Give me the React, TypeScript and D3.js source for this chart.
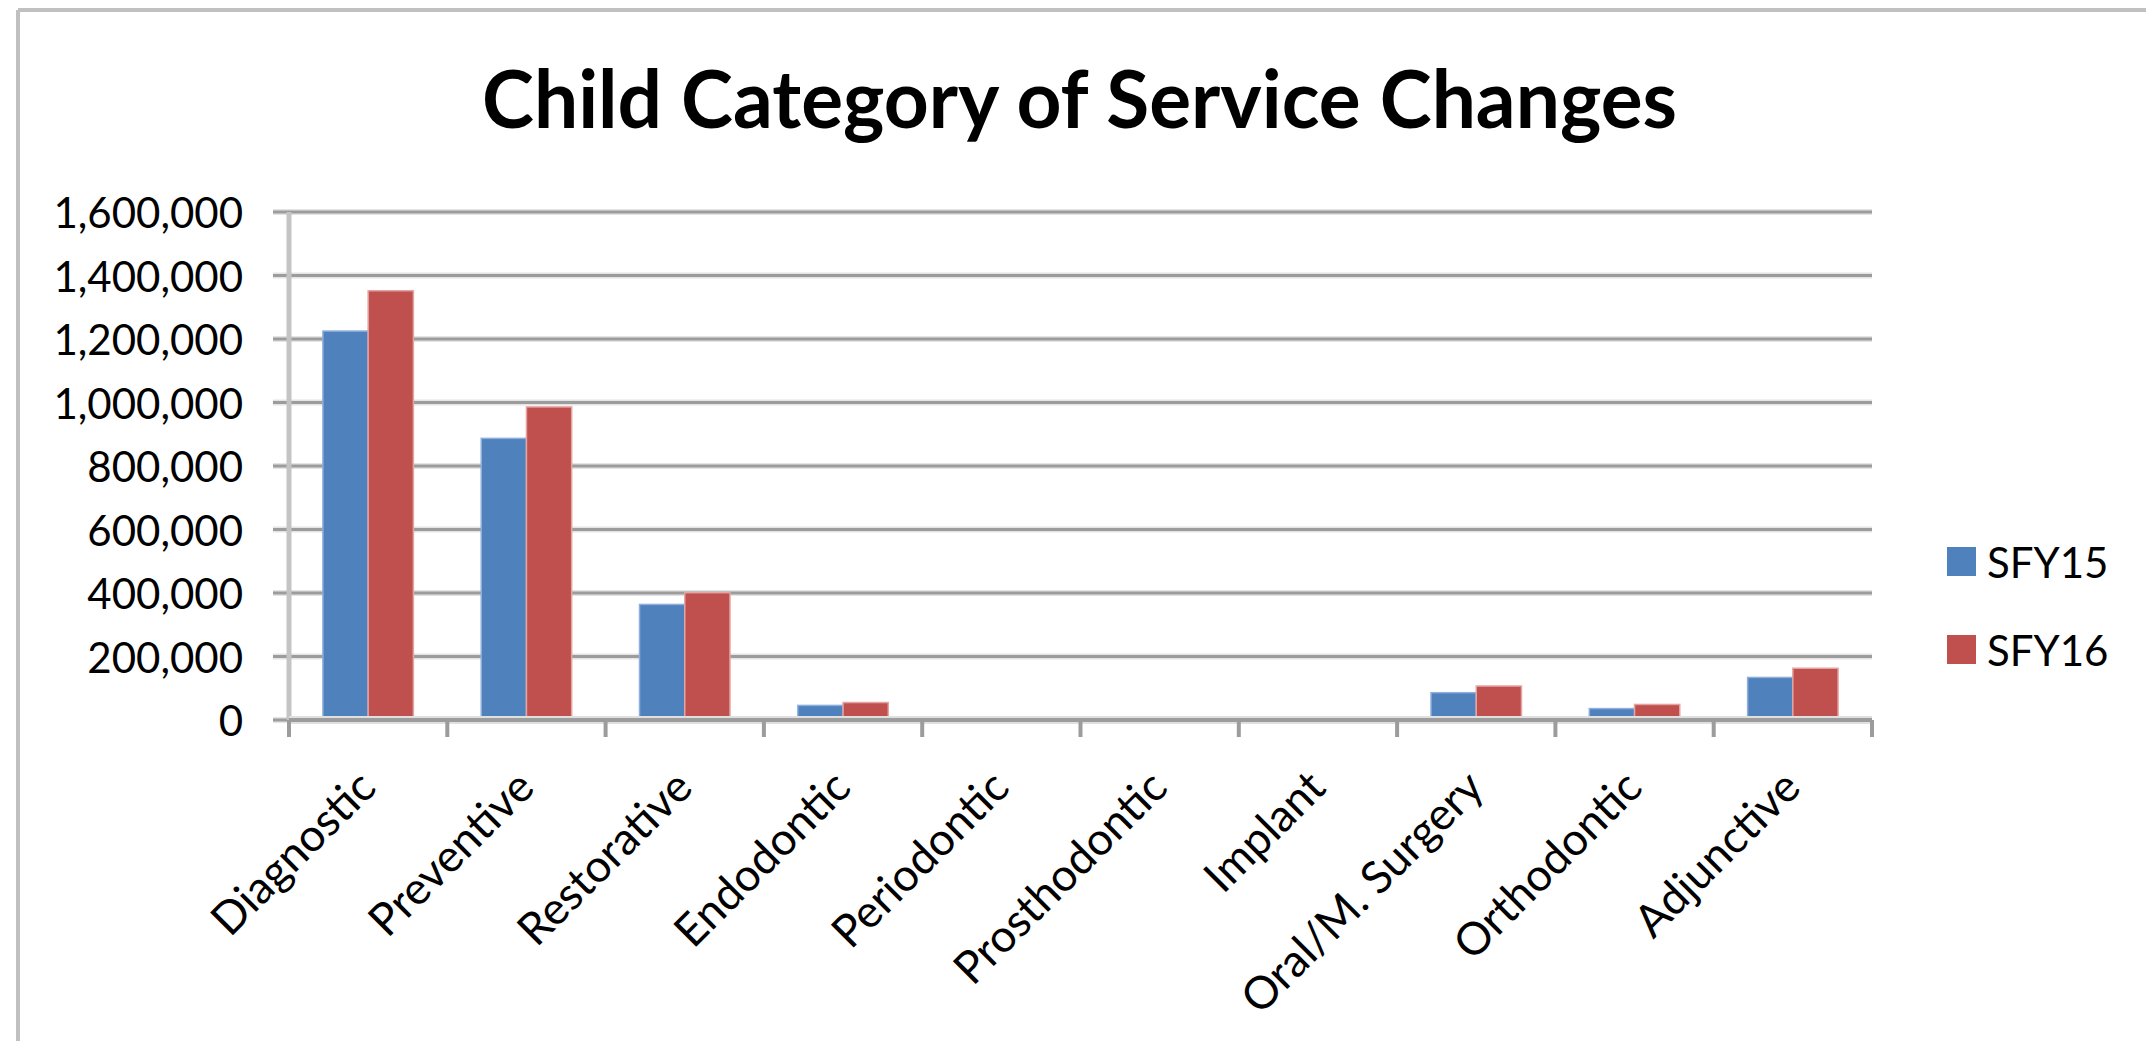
import React from "react";
import * as d3 from "d3";

const categories = [
  "Diagnostic",
  "Preventive",
  "Restorative",
  "Endodontic",
  "Periodontic",
  "Prosthodontic",
  "Implant",
  "Oral/M. Surgery",
  "Orthodontic",
  "Adjunctive",
];
const seriesNames = ["SFY15", "SFY16"];
const sfy15 = [1225000, 887000, 364000, 46000, 900, 200, 100, 86000, 36000, 134000];
const sfy16 = [1352000, 986000, 401000, 55000, 1500, 300, 150, 107000, 49000, 163000];
const yTicks = [0, 200000, 400000, 600000, 800000, 1000000, 1200000, 1400000, 1600000];
const colors = ["#4F81BD", "#C0504D"];
const strokeColors = ["#8eaedb", "#e3a4a2"];

const W = 2146;
const H = 1041;
const M = { left: 289, right: 1872, top: 212, bottom: 720 };
const FONT = "Lato, 'Open Sans', sans-serif";

export default function App() {
  const x0 = d3.scaleBand<string>().domain(categories).range([M.left, M.right]).paddingInner(0).paddingOuter(0);
  const bw = x0.bandwidth();
  const gap = 1.5; // excel gap width 150%
  const barW = bw / (2 + gap);
  const x1 = d3
    .scaleBand<string>()
    .domain(seriesNames)
    .range([barW * gap / 2, barW * gap / 2 + 2 * barW]);
  const y = d3.scaleLinear().domain([0, 1600000]).range([M.bottom, M.top]);
  const fmt = d3.format(",");
  const series = [sfy15, sfy16];
  const boundaries = d3.range(categories.length + 1).map((i) => M.left + i * bw);

  return (
    <svg
      width={W}
      height={H}
      style={{ position: "absolute", left: 0, top: 0, display: "block", background: "#fff" }}
    >
      <rect x={0} y={0} width={W} height={H} fill="#fff" />
      {/* chart border */}
      <line x1={18} y1={10} x2={W} y2={10} stroke="#c0c0c0" strokeWidth={4} />
      <line x1={18} y1={10} x2={18} y2={H} stroke="#c0c0c0" strokeWidth={4} />

      {/* title */}
      <text
        x={(482 + 1677) / 2}
        y={128}
        textAnchor="middle"
        fontFamily={FONT}
        fontWeight={700}
        fontSize={80}
        textLength={1195}
        lengthAdjust="spacingAndGlyphs"
        fill="#000"
      >
        Child Category of Service Changes
      </text>

      {/* gridlines + y ticks */}
      {yTicks.map((t) => (
        <g key={t}>
          <line x1={M.left - 16} x2={M.right} y1={y(t)} y2={y(t)} stroke="#e4e4e4" strokeWidth={6} />
          <line x1={M.left - 16} x2={M.right} y1={y(t)} y2={y(t)} stroke="#9c9c9c" strokeWidth={3} />
          <text
            x={243}
            y={y(t)}
            textAnchor="end"
            dominantBaseline="central"
            fontFamily={FONT}
            fontSize={42}
            fill="#000"
          >
            {fmt(t)}
          </text>
        </g>
      ))}

      {/* y axis line */}
      <line x1={M.left} x2={M.left} y1={M.top} y2={M.bottom} stroke="#c4c4c4" strokeWidth={5} />

      {/* bars */}
      {categories.map((c, i) => (
        <g key={c} transform={`translate(${x0(c)},0)`}>
          {series.map((s, j) => (
            <rect
              key={j}
              x={x1(seriesNames[j])}
              y={y(s[i])}
              width={barW}
              height={Math.max(0, y(0) - y(s[i]))}
              fill={colors[j]}
              stroke={strokeColors[j]}
              strokeWidth={s[i] > 5000 ? 1.5 : 0}
            />
          ))}
        </g>
      ))}

      {/* x axis */}
      <line x1={M.left} x2={M.right} y1={M.bottom} y2={M.bottom} stroke="#e0e0e0" strokeWidth={8} />
      <line x1={M.left} x2={M.right} y1={M.bottom} y2={M.bottom} stroke="#9c9c9c" strokeWidth={4} />
      {boundaries.map((bx, i) => (
        <line key={i} x1={bx} x2={bx} y1={M.bottom} y2={M.bottom + 17} stroke="#9c9c9c" strokeWidth={4} />
      ))}

      {/* x labels */}
      {categories.map((c) => {
        const cx = (x0(c) as number) + bw / 2 + 10;
        return (
          <text
            key={c}
            transform={`translate(${cx},${790}) rotate(-45)`}
            textAnchor="end"
            fontFamily={FONT}
            fontSize={45}
            fill="#000"
          >
            {c}
          </text>
        );
      })}

      {/* legend */}
      {seriesNames.map((n, j) => (
        <g key={n} transform={`translate(1947,${547 + j * 88})`}>
          <rect x={0} y={0} width={29} height={29} fill={colors[j]} />
          <text x={40} y={15} dominantBaseline="central" fontFamily={FONT} fontSize={42} fill="#000">
            {n}
          </text>
        </g>
      ))}
    </svg>
  );
}
